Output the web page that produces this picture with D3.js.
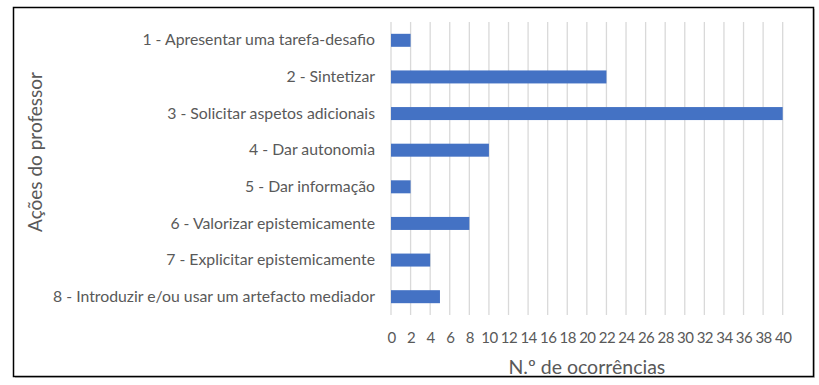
<!DOCTYPE html>
<html>
<head>
<meta charset="utf-8">
<script src="https://cdn.jsdelivr.net/npm/d3@7"></script>
<style>
  body { margin: 0; background: #fff; }
  text { font-family: Lato, "Open Sans", sans-serif; fill: #595959; }
</style>
</head>
<body>
<div class="chart"></div>
<script>
// chart data
const categories = [
  "1 - Apresentar uma tarefa-desafio",
  "2 - Sintetizar",
  "3 - Solicitar aspetos adicionais",
  "4 - Dar autonomia",
  "5 - Dar informação",
  "6 - Valorizar epistemicamente",
  "7 - Explicitar epistemicamente",
  "8 - Introduzir e/ou usar um artefacto mediador"
];
const occurrences = [2, 22, 40, 10, 2, 8, 4, 5];
const xTicks = [0, 2, 4, 6, 8, 10, 12, 14, 16, 18, 20, 22, 24, 26, 28, 30, 32, 34, 36, 38, 40];
const xTitle = "N.º de ocorrências";
const yTitle = "Ações do professor";

const W = 819, H = 385;
let margin = { top: 22, right: 36, bottom: 70, left: 391 };
let width = W - margin.left - margin.right;   // plot width
let height = H - margin.top - margin.bottom;

let svg = d3.select('.chart').append('svg')
  .attr('width', W)
  .attr('height', H);

// frame round the whole chart
svg.append('rect')
  .attr('x', 15).attr('y', 9)
  .attr('width', 800).attr('height', 369)
  .attr('fill', '#c8c8c8');
svg.append('rect')
  .attr('x', 13.5).attr('y', 7.5)
  .attr('width', 800).attr('height', 369)
  .attr('fill', '#fff')
  .attr('stroke', '#000')
  .attr('stroke-width', 1.5);

let x = d3.scaleLinear().domain([0, 40]).range([0, 391.7]);
let y = d3.scaleBand().domain(categories).range([0, height]).paddingInner(0.645).paddingOuter(0.3225);

let g = svg.append('g').attr('transform', 'translate(' + margin.left + ',' + margin.top + ')');

// vertical grid lines
g.selectAll('.grid-line')
  .data(xTicks)
  .enter().append('line')
  .classed('grid-line', true)
  .attr('x1', d => x(d)).attr('x2', d => x(d))
  .attr('y1', 0).attr('y2', height)
  .attr('stroke', '#d9d9d9')
  .attr('stroke-width', 1.3);

// bars
g.selectAll('.bar')
  .data(occurrences)
  .enter().append('rect')
  .classed('bar', true)
  .attr('x', x(0))
  .attr('y', (d, i) => y(categories[i]))
  .attr('width', d => x(d) - x(0))
  .attr('height', y.bandwidth())
  .attr('fill', '#4472c4');

// x axis labels
let xAxis = d3.axisBottom(x).tickValues(xTicks).tickSize(0).tickPadding(17);
let xg = g.append('g')
  .attr('transform', 'translate(0,' + height + ')')
  .call(xAxis);
xg.select('.domain').remove();
xg.selectAll('text')
  .style('font-size', '15px')
  .attr('letter-spacing', '-0.5px');

// y axis labels
let yAxis = d3.axisLeft(y).tickSize(0).tickPadding(16);
let yg = g.append('g').call(yAxis);
yg.select('.domain').remove();
yg.selectAll('text')
  .style('font-size', '15.8px');

// axis titles
svg.append('text')
  .attr('x', margin.left + x(20))
  .attr('y', 374)
  .attr('text-anchor', 'middle')
  .style('font-size', '19.5px')
  .text(xTitle);

svg.append('text')
  .attr('transform', 'translate(42,152) rotate(-90)')
  .attr('text-anchor', 'middle')
  .style('font-size', '19px')
  .text(yTitle);
</script>
</body>
</html>
